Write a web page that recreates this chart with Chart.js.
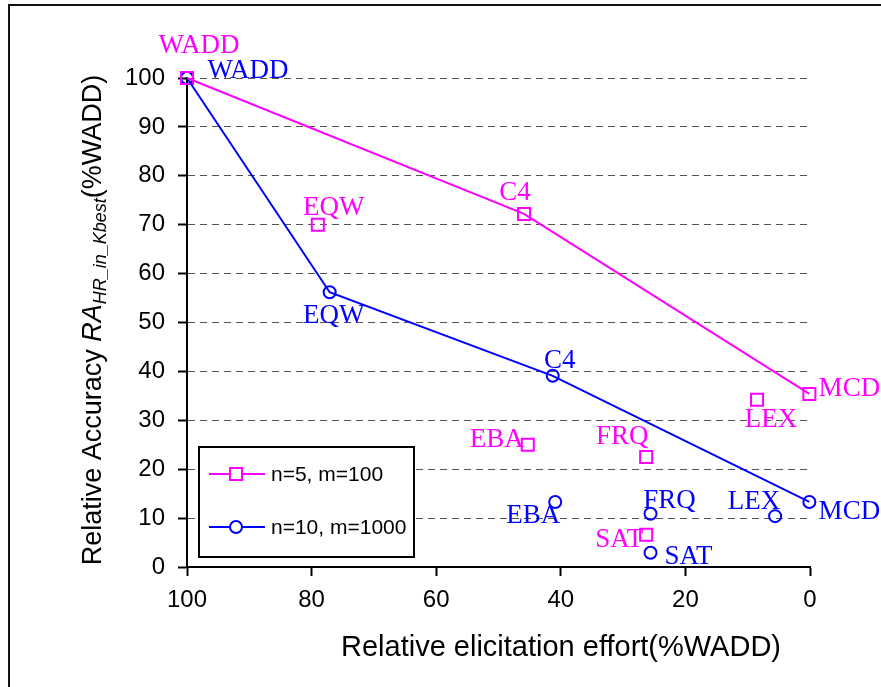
<!DOCTYPE html>
<html>
<head>
<meta charset="utf-8">
<script src="https://cdn.jsdelivr.net/npm/chart.js@4/dist/chart.umd.min.js"></script>
<style>
  html, body { margin: 0; padding: 0; background: #fff; }
</style>
</head>
<body>
<canvas id="chart" width="881" height="687"></canvas>
<script>
// decision strategies, same order in every array
const methods = ["WADD", "EQW", "C4", "EBA", "FRQ", "SAT", "LEX", "MCD"];

// n=5, m=100
const effortA = [100, 79.0, 45.9, 45.3, 26.3, 26.3, 8.5, 0.1];
const accuracyA = [100, 70.0, 72.2, 25.0, 22.5, 6.6, 34.2, 35.4];
const frontierA = ["WADD", "C4", "MCD"];

// n=10, m=1000
const effortB = [100, 77.1, 41.3, 40.9, 25.6, 25.6, 5.6, 0.1];
const accuracyB = [100, 56.2, 39.1, 13.3, 10.9, 2.9, 10.4, 13.3];
const frontierB = ["WADD", "EQW", "C4", "MCD"];

const seriesNames = ["n=5, m=100", "n=10, m=1000"];
const xTicks = [0, 20, 40, 60, 80, 100];
const yTicks = [0, 10, 20, 30, 40, 50, 60, 70, 80, 90, 100];

// where each method's name sits, relative to its marker (px)
const labelOffsetA = [[12, -32], [16, -17], [-9, -21], [-31, -5], [-24, -20], [-27, 5], [14, 20], [40, -5]];
const labelOffsetB = [[61, -7], [4, 24], [7, -15], [-22, 14], [19, -13], [38, 4], [-21, -14], [40, 10]];

const MAGENTA = "#ff00ff";
const BLUE = "#0000ff";
const SANS = "Arial, 'Liberation Sans', sans-serif";
const SERIF = "'Times New Roman', 'Liberation Serif', serif";

function points(xs, ys) {
    return xs.map((x, i) => ({ x: x, y: ys[i] }));
}

function frontier(names, xs, ys) {
    return names.map(n => {
        const i = methods.indexOf(n);
        return { x: xs[i], y: ys[i] };
    });
}

const extras = {
    id: "extras",
    afterDraw(chart) {
        const ctx = chart.ctx;
        const sx = chart.scales.x;
        const sy = chart.scales.y;

        // outer frame (only top and left are inside the picture)
        ctx.save();
        ctx.strokeStyle = "#111";
        ctx.lineWidth = 2;
        ctx.beginPath();
        ctx.moveTo(9, 687);
        ctx.lineTo(9, 5);
        ctx.lineTo(881, 5);
        ctx.stroke();
        ctx.restore();

        // method names next to the markers
        ctx.save();
        ctx.font = "27px " + SERIF;
        ctx.textAlign = "center";
        ctx.textBaseline = "middle";
        [[effortA, accuracyA, labelOffsetA, MAGENTA], [effortB, accuracyB, labelOffsetB, BLUE]].forEach(s => {
            ctx.fillStyle = s[3];
            methods.forEach((m, i) => {
                const px = sx.getPixelForValue(s[0][i]) + s[2][i][0];
                const py = sy.getPixelForValue(s[1][i]) + s[2][i][1];
                ctx.fillText(m, px, py);
            });
        });
        ctx.restore();

        // x title
        ctx.save();
        ctx.font = "29px " + SANS;
        ctx.fillStyle = "#000";
        ctx.textAlign = "center";
        ctx.textBaseline = "alphabetic";
        ctx.fillText("Relative elicitation effort(%WADD)", 561, 656);
        ctx.restore();

        // y title with italic subscript
        const parts = [
            { t: "Relative Accuracy ", f: "27px " + SANS, dy: 0 },
            { t: "RA", f: "italic 27px " + SANS, dy: 0 },
            { t: "HR_in_Kbest", f: "italic 18px " + SANS, dy: 5 },
            { t: "(%WADD)", f: "27px " + SANS, dy: 0 }
        ];
        ctx.save();
        ctx.translate(101, 320);
        ctx.rotate(-Math.PI / 2);
        ctx.fillStyle = "#000";
        ctx.textBaseline = "alphabetic";
        let total = 0;
        parts.forEach(p => { ctx.font = p.f; p.w = ctx.measureText(p.t).width; total += p.w; });
        let cx = -total / 2;
        parts.forEach(p => {
            ctx.font = p.f;
            ctx.fillText(p.t, cx, p.dy);
            cx += p.w;
        });
        ctx.restore();

        // legend box
        ctx.save();
        ctx.fillStyle = "#fff";
        ctx.fillRect(199, 447, 215, 110);
        ctx.strokeStyle = "#000";
        ctx.lineWidth = 2;
        ctx.strokeRect(199, 447, 215, 110);
        const rows = [[474, MAGENTA, "rect"], [527, BLUE, "circle"]];
        rows.forEach((r, i) => {
            ctx.strokeStyle = r[1];
            ctx.lineWidth = 2;
            ctx.beginPath();
            ctx.moveTo(209, r[0]);
            ctx.lineTo(265, r[0]);
            ctx.stroke();
            ctx.fillStyle = "#fff";
            ctx.beginPath();
            if (r[2] === "rect") {
                ctx.rect(230, r[0] - 6, 12, 12);
            } else {
                ctx.arc(236, r[0], 6, 0, Math.PI * 2);
            }
            ctx.fill();
            ctx.stroke();
            ctx.fillStyle = "#000";
            ctx.font = "21px " + SANS;
            ctx.textAlign = "left";
            ctx.textBaseline = "middle";
            ctx.fillText(seriesNames[i], 271, r[0] + 1);
        });
        ctx.restore();
    }
};

new Chart(document.getElementById("chart"), {
    type: "scatter",
    data: {
        datasets: [
            {
                label: seriesNames[0] + " frontier",
                data: frontier(frontierA, effortA, accuracyA),
                showLine: true,
                borderColor: MAGENTA,
                borderWidth: 2,
                pointRadius: 0,
                clip: false
            },
            {
                label: seriesNames[1] + " frontier",
                data: frontier(frontierB, effortB, accuracyB),
                showLine: true,
                borderColor: BLUE,
                borderWidth: 2,
                pointRadius: 0,
                clip: false
            },
            {
                label: seriesNames[0],
                data: points(effortA, accuracyA),
                showLine: false,
                pointStyle: "rect",
                pointRadius: 8.5,
                pointBorderWidth: 2,
                borderColor: MAGENTA,
                backgroundColor: "rgba(0,0,0,0)",
                clip: false
            },
            {
                label: seriesNames[1],
                data: points(effortB, accuracyB),
                showLine: false,
                pointStyle: "circle",
                pointRadius: 6,
                pointBorderWidth: 2,
                borderColor: BLUE,
                backgroundColor: "rgba(0,0,0,0)",
                clip: false
            }
        ]
    },
    options: {
        responsive: false,
        animation: false,
        layout: { padding: { top: 78, right: 71, left: 0, bottom: 0 } },
        plugins: {
            legend: { display: false },
            tooltip: { enabled: false }
        },
        scales: {
            x: {
                type: "linear",
                reverse: true,
                min: 0,
                max: 100,
                afterFit: s => { s.height = 120; },
                afterBuildTicks: s => { s.ticks = xTicks.map(v => ({ value: v })); },
                ticks: {
                    color: "#000",
                    font: { family: SANS, size: 24 },
                    padding: 10,
                    maxRotation: 0
                },
                grid: {
                    drawOnChartArea: false,
                    drawTicks: true,
                    tickLength: 9,
                    tickWidth: 2,
                    tickColor: "#000"
                },
                border: { color: "#000", width: 2 }
            },
            y: {
                min: 0,
                max: 100,
                afterFit: s => { s.width = 187; },
                afterBuildTicks: s => { s.ticks = yTicks.map(v => ({ value: v })); },
                ticks: {
                    color: "#000",
                    font: { family: SANS, size: 24 },
                    padding: 13
                },
                grid: {
                    color: "#555",
                    lineWidth: 1,
                    tickLength: 9,
                    tickWidth: 2,
                    tickColor: "#000",
                    tickBorderDash: []
                },
                border: { color: "#000", width: 2, dash: [7, 5] }
            }
        }
    },
    plugins: [extras]
});
</script>
</body>
</html>
